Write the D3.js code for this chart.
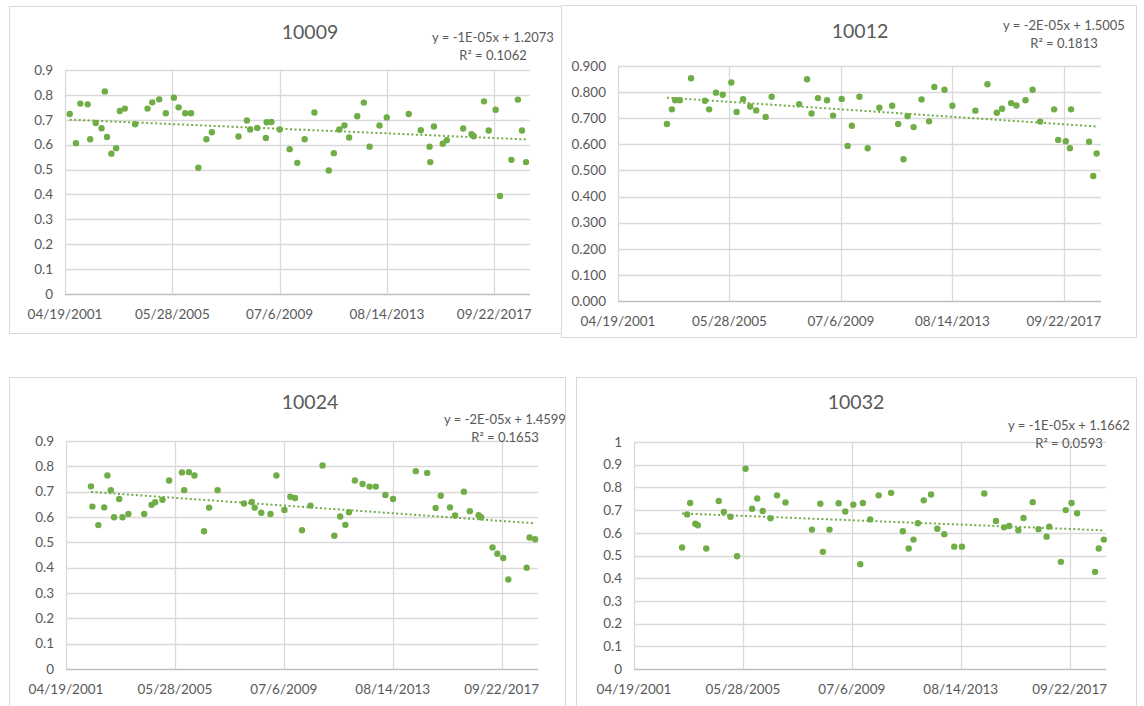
<!DOCTYPE html>
<html lang="en">
<head>
<meta charset="UTF-8">
<title>Trend charts</title>
<style>
  body { margin: 0; background: #fff; }
  text { font-family: Lato, "Open Sans", sans-serif; fill: #595959; }
</style>
</head>
<body>
<svg width="1144" height="706"></svg>
<script src="https://d3js.org/d3.v7.min.js"></script>
<script>
// dates are Excel day serials (37000 = 04/19/2001)
var dates10009 = [37066,37153,37214,37317,37352,37429,37511,37557,37587,37648,37715,37766,37837,37980,38154,38220,38317,38409,38522,38588,38680,38762,38864,38976,39053,39425,39543,39589,39686,39808,39819,39885,40002,40140,40247,40350,40487,40687,40758,40835,40906,40972,41085,41177,41258,41396,41498,41805,41973,42096,42106,42157,42280,42336,42566,42683,42714,42857,42923,43020,43081,43240,43331,43388,43444];
var values10009 = [0.723,0.606,0.765,0.762,0.622,0.687,0.666,0.814,0.631,0.564,0.586,0.735,0.745,0.682,0.745,0.770,0.782,0.726,0.789,0.750,0.726,0.726,0.507,0.622,0.650,0.633,0.697,0.661,0.667,0.627,0.690,0.691,0.661,0.582,0.527,0.622,0.729,0.496,0.566,0.661,0.677,0.629,0.714,0.769,0.592,0.677,0.709,0.723,0.658,0.592,0.530,0.673,0.604,0.618,0.665,0.642,0.634,0.774,0.657,0.740,0.394,0.539,0.781,0.657,0.530];

var dates10012 = [37659,37725,37770,37831,37983,38171,38226,38318,38409,38525,38596,38683,38779,38860,38987,39068,39438,39544,39605,39691,39813,39894,40010,40091,40147,40249,40360,40517,40690,40771,40842,40897,40978,41085,41186,41257,41394,41500,41810,41972,42098,42169,42291,42362,42484,42580,42681,42869,42924,43026,43082,43097,43340,43396,43441];
var values10012 = [0.678,0.734,0.769,0.769,0.853,0.767,0.734,0.798,0.790,0.837,0.724,0.773,0.745,0.730,0.705,0.782,0.754,0.849,0.718,0.777,0.769,0.710,0.774,0.594,0.671,0.782,0.585,0.740,0.748,0.678,0.543,0.708,0.666,0.772,0.688,0.820,0.809,0.748,0.729,0.830,0.721,0.736,0.758,0.749,0.769,0.809,0.687,0.734,0.617,0.612,0.585,0.734,0.610,0.479,0.565];

var dates10024 = [37344,37364,37445,37526,37571,37617,37662,37733,37778,37859,38077,38178,38228,38329,38420,38597,38628,38693,38769,38901,38971,39088,39452,39558,39598,39689,39816,39897,40008,40089,40154,40250,40367,40533,40695,40776,40847,40897,40978,41084,41180,41266,41398,41504,41817,41974,42090,42161,42288,42358,42480,42561,42682,42717,42874,42940,43021,43091,43344,43384,43460];
var values10024 = [0.721,0.641,0.568,0.638,0.764,0.706,0.599,0.671,0.599,0.612,0.612,0.648,0.658,0.668,0.744,0.776,0.706,0.777,0.764,0.544,0.637,0.706,0.653,0.659,0.637,0.617,0.612,0.764,0.628,0.680,0.675,0.548,0.645,0.803,0.526,0.602,0.569,0.619,0.744,0.730,0.720,0.720,0.687,0.671,0.781,0.774,0.636,0.684,0.638,0.606,0.700,0.623,0.607,0.599,0.480,0.455,0.438,0.353,0.400,0.519,0.512];

var dates10032 = [37662,37732,37773,37844,37879,37995,38167,38237,38328,38419,38536,38626,38697,38773,38879,38970,39086,39450,39566,39601,39692,39818,39909,40020,40116,40152,40253,40369,40541,40702,40783,40849,40909,40990,41091,41177,41273,41410,41516,41824,41985,42096,42167,42293,42364,42491,42571,42682,42718,42879,42945,43026,43102,43349,43400,43470];
var values10032 = [0.535,0.681,0.731,0.640,0.633,0.531,0.740,0.692,0.671,0.497,0.882,0.706,0.751,0.696,0.664,0.765,0.734,0.614,0.728,0.516,0.614,0.730,0.694,0.724,0.462,0.731,0.659,0.765,0.776,0.607,0.531,0.570,0.642,0.743,0.769,0.618,0.594,0.539,0.539,0.773,0.652,0.624,0.630,0.611,0.665,0.735,0.616,0.583,0.627,0.472,0.700,0.731,0.686,0.428,0.531,0.570];

var xTickValues = [37000, 38500, 40000, 41500, 43000];
var xTickLabels = ["04/19/2001", "05/28/2005", "07/6/2009", "08/14/2013", "09/22/2017"];
var xDomain = [37000, 43500];

var titles = ["10009", "10012", "10024", "10032"];
var equations = ["y = -1E-05x + 1.2073", "y = -2E-05x + 1.5005", "y = -2E-05x + 1.4599", "y = -1E-05x + 1.1662"];
var rSquared = ["R\u00b2 = 0.1062", "R\u00b2 = 0.1813", "R\u00b2 = 0.1653", "R\u00b2 = 0.0593"];
var yMax = [0.9, 0.9, 0.9, 1];
var yFormats = [d3.format(".1~f"), d3.format(".3f"), d3.format(".1~f"), d3.format(".1~f")];

var green = "#70ad47";

// layout of each screenshot panel
var panels = [
  {dates: dates10009, values: values10009, box: [9, 6, 600, 327], plot: [65, 70, 530, 294], title: [310, 32], eq: [493, 37]},
  {dates: dates10012, values: values10012, box: [561, 5, 575, 332], plot: [618, 66, 1101, 301], title: [860, 31], eq: [1064, 25]},
  {dates: dates10024, values: values10024, box: [9, 377, 556, 340], plot: [66, 441, 538, 669], title: [310, 402], eq: [505, 419]},
  {dates: dates10032, values: values10032, box: [576, 377, 560, 340], plot: [634, 442, 1106, 669], title: [856, 402], eq: [1069, 425]}
];

var svg = d3.select("svg");

panels.forEach(function(p, i) {
  var g = svg.append("g");

  g.append("rect")
    .attr("x", p.box[0] + 0.5).attr("y", p.box[1] + 0.5)
    .attr("width", p.box[2]).attr("height", p.box[3])
    .attr("fill", "#fff").attr("stroke", "#d9d9d9");

  var x = d3.scaleLinear().domain(xDomain).range([p.plot[0], p.plot[2]]);
  var y = d3.scaleLinear().domain([0, yMax[i]]).range([p.plot[3], p.plot[1]]);
  var yTicks = d3.range(0, yMax[i] + 0.001, 0.1);

  // horizontal gridlines
  g.selectAll(".hgrid").data(yTicks).enter().append("line")
    .attr("x1", p.plot[0]).attr("x2", p.plot[2])
    .attr("y1", function(d) { return Math.round(y(d)) + 0.5; })
    .attr("y2", function(d) { return Math.round(y(d)) + 0.5; })
    .attr("stroke", function(d) { return d === 0 ? "#bfbfbf" : "#d9d9d9"; })
    .attr("stroke-width", 1.3);

  // vertical gridlines at the date ticks
  g.selectAll(".vgrid").data(xTickValues).enter().append("line")
    .attr("x1", function(d) { return Math.round(x(d)) + 0.5; })
    .attr("x2", function(d) { return Math.round(x(d)) + 0.5; })
    .attr("y1", p.plot[1]).attr("y2", p.plot[3])
    .attr("stroke", "#d9d9d9").attr("stroke-width", 1.3);

  // y labels
  g.selectAll(".ylab").data(yTicks).enter().append("text")
    .attr("x", p.plot[0] - 12)
    .attr("y", function(d) { return y(d); })
    .attr("dy", "0.35em")
    .attr("text-anchor", "end")
    .attr("font-size", 13.5)
    .text(function(d) { return yFormats[i](d); });

  // x labels
  g.selectAll(".xlab").data(xTickValues).enter().append("text")
    .attr("x", function(d) { return x(d); })
    .attr("y", p.plot[3] + 20)
    .attr("dy", "0.35em")
    .attr("text-anchor", "middle")
    .attr("font-size", 13.5)
    .text(function(d, j) { return xTickLabels[j]; });

  // title
  g.append("text")
    .attr("x", p.title[0]).attr("y", p.title[1])
    .attr("dy", "0.35em").attr("text-anchor", "middle")
    .attr("font-size", 19.5)
    .text(titles[i]);

  // linear trendline (least squares over the series)
  var pts = p.dates.map(function(d, j) { return [d, p.values[j]]; });
  var mx = d3.mean(pts, function(d) { return d[0]; });
  var my = d3.mean(pts, function(d) { return d[1]; });
  var sxy = d3.sum(pts, function(d) { return (d[0] - mx) * (d[1] - my); });
  var sxx = d3.sum(pts, function(d) { return (d[0] - mx) * (d[0] - mx); });
  var slope = sxy / sxx, icpt = my - slope * mx;
  var ext = d3.extent(p.dates);

  g.append("line")
    .attr("x1", x(ext[0])).attr("y1", y(icpt + slope * ext[0]))
    .attr("x2", x(ext[1])).attr("y2", y(icpt + slope * ext[1]))
    .attr("stroke", green).attr("stroke-width", 2)
    .attr("stroke-dasharray", "2,2.5");

  // points
  g.selectAll(".pt").data(pts).enter().append("circle")
    .attr("cx", function(d) { return x(d[0]); })
    .attr("cy", function(d) { return y(d[1]); })
    .attr("r", 3.2)
    .attr("fill", green);

  // trendline label
  g.append("text")
    .attr("x", p.eq[0]).attr("y", p.eq[1])
    .attr("dy", "0.35em").attr("text-anchor", "middle")
    .attr("font-size", 13)
    .text(equations[i]);
  g.append("text")
    .attr("x", p.eq[0]).attr("y", p.eq[1] + 18)
    .attr("dy", "0.35em").attr("text-anchor", "middle")
    .attr("font-size", 13)
    .text(rSquared[i]);
});
</script>
</body>
</html>
